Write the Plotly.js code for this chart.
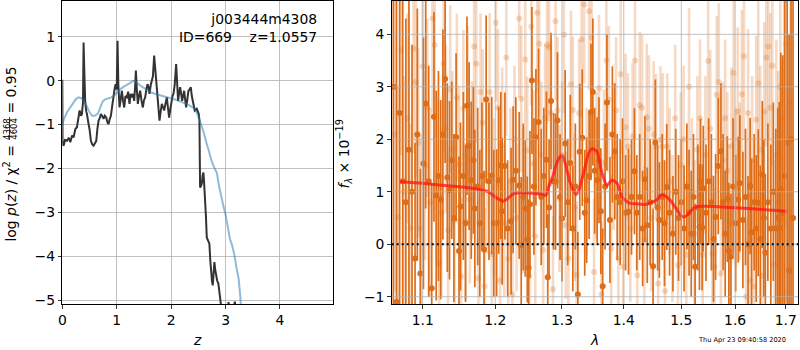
<!DOCTYPE html>
<html>
<head>
<meta charset="utf-8">
<script src="https://cdn.plot.ly/plotly-3.0.1.min.js"></script>
<style>html,body{margin:0;padding:0;background:#fff;}#chart{width:800px;height:350px;}</style>
</head>
<body>
<div id="chart"></div>
<script>
// ---- Left panel: log p(z) ----
var pzZ = [0.000,0.005,0.024,0.05,0.086,0.12,0.147,0.18,0.208,0.24,0.269,0.30,0.318,0.345,0.36,0.38,0.391,0.405,0.42,0.44,0.453,0.483,0.50,0.526,0.55,0.575,0.60,0.624,0.645,0.667,0.69,0.709,0.73,0.758,0.78,0.807,0.83,0.85,0.87,0.893,0.92,0.942,0.96,0.979,1.0,1.015,1.03,1.052,1.075,1.095,1.115,1.138,1.16,1.187,1.21,1.235,1.255,1.278,1.30,1.321,1.34,1.352,1.37,1.388,1.41,1.431,1.455,1.48,1.50,1.523,1.545,1.565,1.585,1.602,1.625,1.645,1.665,1.688,1.705,1.719,1.735,1.749,1.77,1.786,1.808,1.829,1.85,1.872,1.90,1.921,1.94,1.963,1.985,2.006,2.025,2.043,2.065,2.092,2.11,2.128,2.145,2.165,2.185,2.202,2.22,2.239,2.255,2.275,2.295,2.318,2.34,2.361,2.38,2.404,2.434,2.471,2.49,2.508,2.52,2.526,2.532,2.548,2.563,2.58,2.593,2.605,2.624,2.64,2.655,2.67,2.685,2.703,2.72,2.734,2.75,2.765,2.78,2.795,2.81,2.826,2.845,2.868,2.885,2.899,2.93,2.96,3.0,3.04,3.055,3.07,3.12,3.17,3.19,3.25,3.3];
var pzLog = [0.02,-1.45,-1.48,-1.35,-1.37,-1.30,-1.40,-1.25,-1.29,-1.10,-1.06,-0.75,-0.68,-0.80,-0.76,-0.50,0.87,0.2,-0.46,-0.70,-0.76,-0.99,-1.1,-1.37,-1.45,-1.48,-1.42,-1.37,-1.1,-0.91,-0.85,-0.76,-0.80,-0.87,-0.80,-0.84,-0.95,-0.99,-0.88,-0.80,-0.55,-0.30,-0.20,-0.08,-0.2,0.91,-0.1,-0.61,-0.35,-0.23,-0.45,-0.61,-0.35,-0.38,-0.25,-0.53,-0.3,-0.38,-0.30,-0.46,-0.1,0.23,-0.2,-0.53,-0.35,-0.23,-0.45,-0.61,-0.45,-0.38,-0.2,-0.08,-0.15,-0.30,-0.1,0.0,0.1,0.57,0.3,0.0,-0.25,-0.53,-0.75,-0.91,-0.7,-0.53,-0.6,-0.68,-0.5,-0.38,-0.6,-0.84,-0.65,-0.46,-0.35,-0.30,-0.1,0.38,-0.1,-0.46,-0.3,-0.15,-0.3,-0.46,-0.35,-0.23,-0.4,-0.61,-0.45,-0.23,-0.2,-0.15,-0.35,-0.53,-0.68,-0.64,-0.70,-0.76,-0.9,-1.37,-2.43,-2.40,-2.35,-2.15,-2.09,-2.3,-2.66,-3.1,-3.57,-3.62,-3.65,-3.71,-4.1,-4.39,-4.55,-4.66,-4.4,-4.13,-4.3,-4.47,-4.55,-4.62,-4.8,-5.03,-5.25,-5.4,-5.2,-5.3,-5.04,-5.25,-5.4,-5.03,-5.2,-5.6,-6.0];

var tplZ = [0.0,0.03,0.086,0.15,0.20,0.25,0.30,0.35,0.40,0.45,0.50,0.55,0.60,0.66,0.70,0.74,0.78,0.84,0.90,0.96,1.02,1.08,1.14,1.20,1.26,1.30,1.33,1.37,1.42,1.49,1.56,1.64,1.73,1.85,1.98,2.10,2.22,2.32,2.41,2.46,2.50,2.55,2.60,2.65,2.70,2.75,2.80,2.84,2.88,2.92,2.96,3.00,3.04,3.08,3.12,3.16,3.20,3.24,3.27,3.29];
var tplLog = [-1.0,-0.88,-0.72,-0.6,-0.50,-0.42,-0.38,-0.40,-0.48,-0.58,-0.72,-0.80,-0.80,-0.74,-0.60,-0.48,-0.43,-0.41,-0.38,-0.33,-0.25,-0.18,-0.13,-0.08,-0.04,-0.01,0.0,-0.05,-0.10,-0.16,-0.22,-0.27,-0.31,-0.35,-0.39,-0.44,-0.50,-0.55,-0.62,-0.70,-0.82,-0.98,-1.18,-1.42,-1.65,-1.85,-2.0,-2.1,-2.4,-2.65,-2.85,-3.05,-3.30,-3.60,-3.75,-3.95,-4.25,-4.50,-4.9,-5.3];

var zTicks = [0,1,2,3,4];
var pzTicks = [1,0,-1,-2,-3,-4,-5];

// ---- Right panel: spectrum ----
var darkWave = [1.062,1.066,1.070,1.074,1.078,1.082,1.086,1.090,1.093,1.097,1.101,1.104,1.108,1.112,1.115,1.118,1.121,1.124,1.127,1.130,1.133,1.136,1.139,1.142,1.145,1.149,1.151,1.155,1.158,1.160,1.163,1.166,1.169,1.171,1.175,1.178,1.181,1.184,1.187,1.191,1.195,1.198,1.202,1.205,1.208,1.210,1.214,1.218,1.223,1.226,1.230,1.235,1.238,1.241,1.244,1.247,1.249,1.251,1.254,1.257,1.260,1.264,1.268,1.272,1.276,1.278,1.280,1.283,1.287,1.290,1.293,1.297,1.300,1.305,1.309,1.313,1.317,1.321,1.325,1.328,1.332,1.336,1.339,1.343,1.346,1.349,1.352,1.356,1.359,1.362,1.365,1.369,1.372,1.377,1.381,1.385,1.389,1.394,1.398,1.403,1.408,1.413,1.418,1.422,1.427,1.432,1.436,1.440,1.445,1.450,1.454,1.458,1.461,1.466,1.470,1.474,1.479,1.485,1.490,1.495,1.500,1.505,1.510,1.514,1.518,1.522,1.525,1.530,1.533,1.535,1.538,1.540,1.545,1.550,1.555,1.559,1.563,1.568,1.573,1.577,1.581,1.585,1.588,1.592,1.596,1.601,1.606,1.609,1.615,1.620,1.625,1.629,1.632,1.637,1.641,1.645,1.649,1.653,1.656,1.659,1.664,1.670,1.675,1.680,1.684,1.687,1.690,1.694,1.698,1.703,1.707,1.711,1.715];
var darkFlux = [3.0,-1.1,2.5,1.2,0.8,1.8,1.0,-0.27,2.09,-0.56,1.54,2.68,1.2,-0.84,2.43,0.93,1.3,0.85,2.09,3.15,1.27,1.03,1.6,0.5,2.04,-0.13,0.72,1.30,0.4,2.64,1.87,1.22,1.6,0.68,1.1,0.4,1.3,-0.10,2.76,1.20,1.31,0.4,0.41,1.22,1.5,0.63,1.49,0.3,0.44,1.23,1.4,1.12,-0.02,0.9,0.68,0.09,-0.45,0.76,3.12,1.1,2.04,2.33,0.9,1.3,1.61,-0.63,0.70,2.73,1.2,1.19,2.36,0.9,0.49,1.92,0.8,1.55,0.3,1.1,-0.96,1.76,2.03,0.6,0.84,1.3,2.52,2.90,1.4,1.22,1.6,0.63,-0.80,1.1,2.70,0.46,2.09,1.77,0.9,0.80,1.2,0.6,0.62,0.9,1.39,0.6,0.9,0.3,1.24,0.36,0.8,-0.42,1.94,0.7,0.46,0.9,0.4,1.09,0.6,0.20,1.0,0.5,0.8,0.3,1.1,0.6,0.20,0.9,-0.43,0.7,0.33,1.19,0.32,1.06,0.6,1.2,0.8,0.1,0.52,1.49,1.77,0.8,0.20,0.86,-0.13,-0.24,1.1,0.4,0.85,1.16,0.46,0.9,0.0,1.11,0.23,0.8,0.3,0.79,0.1,1.33,0.5,-0.16,0.8,0.30,1.0,0.3,0.5,0.31,1.05,0.6,1.3,1.94,-0.5,2.0,0.5];
var darkErr = [6,6,5,4,3.5,3,2.8,2.2,2.4,2.0,2.4,2.0,2.2,2.0,2.0,2.0,2.0,1.9,2.0,1.6,1.8,1.7,1.5,1.6,1.6,1.8,1.6,1.6,1.5,1.7,1.6,1.5,1.4,1.5,1.5,1.4,1.4,1.5,1.6,1.5,1.5,1.4,1.4,1.4,1.4,1.4,1.4,1.3,1.4,1.4,1.4,1.4,1.3,1.4,1.3,1.2,1.3,1.4,1.4,1.3,1.3,1.4,1.3,1.3,1.3,1.2,1.3,1.3,1.3,1.3,1.3,1.2,1.2,1.4,1.2,1.3,1.2,1.2,1.2,1.3,1.3,1.2,1.2,1.2,1.3,1.4,1.2,1.2,1.2,1.2,1.1,1.2,1.3,1.2,1.3,1.3,1.2,1.2,1.2,1.1,1.2,1.1,1.2,1.1,1.2,1.1,1.2,1.1,1.2,1.1,1.2,1.2,1.1,1.2,1.2,1.2,1.2,1.1,1.2,1.2,1.2,1.2,1.2,1.2,1.2,1.2,1.2,1.2,1.2,1.2,1.2,1.2,1.3,1.2,1.3,1.2,1.2,1.3,1.3,1.3,1.2,1.2,1.3,1.2,1.3,1.3,1.2,1.3,1.3,1.3,1.3,1.3,1.4,1.3,1.4,1.4,1.4,1.4,1.5,1.5,1.5,1.6,1.7,1.9,2.1,2.4,2.6,3.0,3.5,4.0,4.5,5,6,6];

var lightWave = [1.064,1.068,1.072,1.076,1.080,1.084,1.088,1.091,1.094,1.097,1.100,1.103,1.106,1.110,1.113,1.116,1.119,1.122,1.125,1.128,1.131,1.134,1.137,1.140,1.143,1.146,1.149,1.152,1.155,1.158,1.161,1.164,1.167,1.170,1.173,1.176,1.179,1.182,1.185,1.188,1.192,1.195,1.198,1.201,1.204,1.207,1.210,1.213,1.216,1.219,1.222,1.225,1.228,1.231,1.235,1.238,1.241,1.244,1.247,1.250,1.253,1.256,1.259,1.262,1.265,1.268,1.271,1.274,1.277,1.280,1.283,1.286,1.290,1.293,1.296,1.300,1.303,1.306,1.310,1.314,1.317,1.320,1.323,1.327,1.331,1.335,1.339,1.343,1.347,1.351,1.355,1.359,1.363,1.367,1.371,1.375,1.379,1.383,1.387,1.391,1.395,1.399,1.403,1.407,1.411,1.415,1.419,1.423,1.427,1.431,1.435,1.439,1.443,1.447,1.451,1.455,1.459,1.463,1.467,1.471,1.475,1.479,1.484,1.489,1.494,1.499,1.504,1.509,1.514,1.519,1.524,1.529,1.534,1.539,1.544,1.549,1.553,1.557,1.561,1.565,1.569,1.573,1.577,1.581,1.585,1.589,1.593,1.597,1.601,1.605,1.609,1.613,1.617,1.621,1.625,1.629,1.633,1.637,1.641,1.645,1.649,1.653,1.657,1.661,1.665,1.669,1.673,1.677,1.681,1.685,1.689,1.693,1.697,1.701,1.705,1.709];
var lightFlux = [2.1,0.52,3.7,1.0,2.4,0.3,3.73,3.09,1.93,0.30,3.39,1.5,2.6,0.8,4.30,3.8,1.2,-0.37,0.6,3.44,2.2,0.27,2.95,1.80,0.46,2.79,1.52,-0.62,2.58,0.44,2.66,0.85,1.6,3.77,3.44,-0.65,2.90,2.32,-0.8,1.33,2.9,-0.19,0.9,4.22,2.60,-0.69,1.87,0.4,3.56,-0.27,1.2,-0.96,2.0,0.5,4.30,2.77,0.84,3.52,1.79,-0.61,4.15,1.54,0.15,4.41,3.82,1.7,-0.11,2.41,3.8,3.75,2.5,-0.86,4.25,2.55,0.87,1.7,3.99,0.36,-0.27,3.05,2.56,0.7,-0.58,2.50,3.9,4.57,1.2,4.44,3.94,-0.53,1.5,2.97,-0.96,1.55,3.5,2.76,-0.08,1.67,2.55,-0.27,3.24,-0.43,2.23,1.86,0.3,2.06,3.5,-0.59,2.65,2.6,0.09,2.42,2.2,0.5,2.09,1.85,-0.75,1.99,1.86,-0.89,1.86,1.2,0.3,2.4,-0.4,1.5,2.0,-0.2,3.0,1.0,0.2,1.8,2.4,-0.2,1.7,3.49,2.2,-0.18,-0.43,2.85,3.09,-0.56,1.6,2.4,1.4,0.4,1.87,3.27,1.09,2.53,1.2,2.86,3.58,-1.0,2.5,-0.69,1.6,-0.8,2.37,3.07,1.8,-0.6,2.53,3.56,3.77,2.6,3.4,-0.38,1.7,0.8,3.0,0.5,2.4,3.8,-0.9,2.7];
var lightErr = [3,2.5,2,2.2,2,2,2,1.8,1.8,1.8,1.9,1.8,1.7,1.8,1.8,1.8,1.6,1.6,1.6,1.7,1.6,1.6,1.6,1.5,1.6,1.6,1.5,1.5,1.5,1.5,1.5,1.6,1.5,1.6,1.5,1.5,1.5,1.4,1.5,1.5,1.5,1.5,1.5,1.5,1.5,1.4,1.5,1.4,1.5,1.5,1.4,1.5,1.4,1.4,1.5,1.4,1.4,1.5,1.4,1.4,1.5,1.4,1.4,1.5,1.4,1.4,1.4,1.4,1.5,1.4,1.4,1.4,1.5,1.4,1.4,1.4,1.5,1.4,1.4,1.4,1.4,1.4,1.4,1.4,1.5,1.5,1.4,1.5,1.4,1.4,1.4,1.4,1.4,1.4,1.5,1.4,1.4,1.4,1.4,1.4,1.5,1.4,1.4,1.4,1.4,1.4,1.5,1.4,1.4,1.4,1.4,1.4,1.4,1.4,1.4,1.4,1.4,1.4,1.4,1.4,1.4,1.4,1.4,1.4,1.4,1.4,1.4,1.4,1.5,1.4,1.4,1.4,1.5,1.4,1.5,1.5,1.5,1.5,1.5,1.5,1.5,1.5,1.5,1.5,1.5,1.5,1.5,1.6,1.5,1.6,1.5,1.6,1.6,1.5,1.6,1.5,1.6,1.5,1.6,1.6,1.6,1.6,1.7,1.7,1.8,1.8,1.9,2,2.2,2.5,2.8,3,3.5,3.5,4,4];

var modelWave = [1.0705,1.10,1.13,1.16,1.178,1.19,1.20,1.206,1.212,1.219,1.226,1.234,1.242,1.256,1.27,1.275,1.28,1.286,1.291,1.296,1.30,1.305,1.309,1.313,1.318,1.3225,1.327,1.331,1.337,1.342,1.348,1.352,1.356,1.364,1.372,1.38,1.389,1.397,1.408,1.42,1.439,1.448,1.456,1.462,1.467,1.474,1.483,1.4925,1.498,1.504,1.510,1.516,1.524,1.531,1.56,1.591,1.64,1.702];
var modelFlux = [1.19,1.16,1.12,1.08,1.04,1.0,0.90,0.85,0.82,0.88,0.96,0.98,0.98,0.97,0.95,0.93,1.12,1.30,1.52,1.65,1.70,1.55,1.35,1.16,1.02,0.95,1.05,1.22,1.50,1.73,1.82,1.80,1.76,1.35,1.12,1.22,1.16,0.90,0.79,0.77,0.76,0.80,0.84,0.92,0.95,0.90,0.80,0.65,0.56,0.52,0.55,0.62,0.70,0.72,0.72,0.70,0.67,0.63];

var lamTicks = [1.1,1.2,1.3,1.4,1.5,1.6,1.7];
var fluxTicks = [-1,0,1,2,3,4];

var DARK = 'rgb(221,109,24)';
var LIGHT = 'rgba(221,109,24,0.25)';
var FONT = 'DejaVu Sans, sans-serif';
var GRID = '#b0b0b0';

var traces = [
  {x: pzZ, y: pzLog, xaxis:'x', yaxis:'y', mode:'lines', line:{color:'#333333', width:2}, hoverinfo:'skip'},
  {x: tplZ, y: tplLog, xaxis:'x', yaxis:'y', mode:'lines', line:{color:'rgba(31,119,180,0.5)', width:2}, hoverinfo:'skip'},
  {x: lightWave, y: lightFlux, xaxis:'x2', yaxis:'y2', mode:'markers',
   marker:{color:LIGHT, size:6, line:{width:0}},
   error_y:{type:'data', array:lightErr, visible:true, color:LIGHT, thickness:2.6, width:0}, hoverinfo:'skip'},
  {x: darkWave, y: darkFlux, xaxis:'x2', yaxis:'y2', mode:'markers',
   marker:{color:DARK, size:6, line:{width:0}},
   error_y:{type:'data', array:darkErr, visible:true, color:DARK, thickness:1.7, width:0}, hoverinfo:'skip'},
  {x: modelWave, y: modelFlux, xaxis:'x2', yaxis:'y2', mode:'lines', line:{color:'rgba(255,20,20,0.75)', width:3, shape:'spline', smoothing:0.6}, hoverinfo:'skip'}
];

var yDom = [46/350, 349/350];
var axBase = {showline:true, mirror:true, linecolor:'black', linewidth:1, ticks:'outside', ticklen:3.5, tickwidth:0.8, tickcolor:'black',
  showgrid:true, gridcolor:GRID, gridwidth:0.8, zeroline:false, tickfont:{family:FONT, size:13.9, color:'black'}};

function ax(extra){ var o = JSON.parse(JSON.stringify(axBase)); for (var k in extra) o[k]=extra[k]; return o; }

var shapes = [];
lamTicks.forEach(function(v){
  shapes.push({type:'line', xref:'x2', yref:'y2 domain', x0:v, x1:v, y0:0, y1:1, line:{color:GRID, width:0.8}, layer:'above'});
});
fluxTicks.forEach(function(v){
  shapes.push({type:'line', xref:'x2 domain', yref:'y2', x0:0, x1:1, y0:v, y1:v, line:{color:GRID, width:0.8}, layer:'above'});
});
shapes.push({type:'line', xref:'x2 domain', yref:'y2', x0:0, x1:1, y0:0, y1:0, line:{color:'black', width:2, dash:'2px,3px'}, layer:'above'});
// fraction bar of y-title
shapes.push({type:'line', xref:'paper', yref:'paper', x0:9.6/800, x1:9.6/800, y0:(350-117)/350, y1:(350-140)/350, line:{color:'black', width:0.8}});

function py(p){ return (350-p)/350; }
function px(p){ return p/800; }

var annotations = [
  {xref:'paper', yref:'paper', x:px(318.5), y:py(27.5), xanchor:'right', yanchor:'middle', align:'right', showarrow:false, text:'j003444m4308<br>ID=669    z=1.0557', font:{family:FONT, size:13.9, color:'black'}},
  {xref:'paper', yref:'paper', x:px(197), y:py(340), xanchor:'center', yanchor:'middle', showarrow:false, text:'<i>z</i>', font:{family:FONT, size:13.9, color:'black'}},
  {xref:'paper', yref:'paper', x:px(594.5), y:py(340), xanchor:'center', yanchor:'middle', showarrow:false, text:'<i>λ</i>', font:{family:FONT, size:13.9, color:'black'}},
  {xref:'paper', yref:'paper', x:px(787.5), y:py(339.5), xanchor:'right', yanchor:'middle', showarrow:false, text:'Thu Apr 23 09:40:58 2020', font:{family:FONT, size:6.6, color:'black'}},
  {xref:'paper', yref:'paper', x:px(344.5), y:py(154), xanchor:'center', yanchor:'middle', showarrow:false, textangle:-90, text:'<i>f</i><sub><i>λ</i></sub> × 10<sup>−19</sup>', font:{family:FONT, size:13.9, color:'black'}},
  {xref:'paper', yref:'paper', x:px(10.5), y:py(194), xanchor:'center', yanchor:'middle', showarrow:false, textangle:-90, text:'log <i>p</i>(<i>z</i>) / χ<sup>2</sup> =', font:{family:FONT, size:13.9, color:'black'}},
  {xref:'paper', yref:'paper', x:px(6.4), y:py(128.5), xanchor:'center', yanchor:'middle', showarrow:false, textangle:-90, text:'4368', font:{family:FONT, size:8.5, color:'black'}},
  {xref:'paper', yref:'paper', x:px(13.2), y:py(128.5), xanchor:'center', yanchor:'middle', showarrow:false, textangle:-90, text:'4604', font:{family:FONT, size:8.5, color:'black'}},
  {xref:'paper', yref:'paper', x:px(10.5), y:py(90), xanchor:'center', yanchor:'middle', showarrow:false, textangle:-90, text:'= 0.95', font:{family:FONT, size:13.9, color:'black'}}
];

var layout = {
  width:800, height:350, margin:{l:0,r:0,t:0,b:0}, paper_bgcolor:'white', plot_bgcolor:'white', showlegend:false,
  font:{family:FONT, size:13.9, color:'black'},
  xaxis: ax({domain:[62.3/800, 333.3/800], range:[0,4.98], tickvals:zTicks, anchor:'y'}),
  yaxis: ax({domain:yDom, range:[-5.084,1.813], tickvals:pzTicks, anchor:'x'}),
  xaxis2: ax({domain:[391.7/800, 798/800], type:'log', range:[0.02526,0.23686], tickvals:lamTicks, ticktext:lamTicks.map(function(v){return v.toFixed(1);}), anchor:'y2', showgrid:false}),
  yaxis2: ax({domain:yDom, range:[-1.139,4.635], tickvals:fluxTicks, anchor:'x2', showgrid:false}),
  shapes: shapes,
  annotations: annotations
};

Plotly.newPlot('chart', traces, layout, {staticPlot:true, displayModeBar:false});
</script>
</body>
</html>
